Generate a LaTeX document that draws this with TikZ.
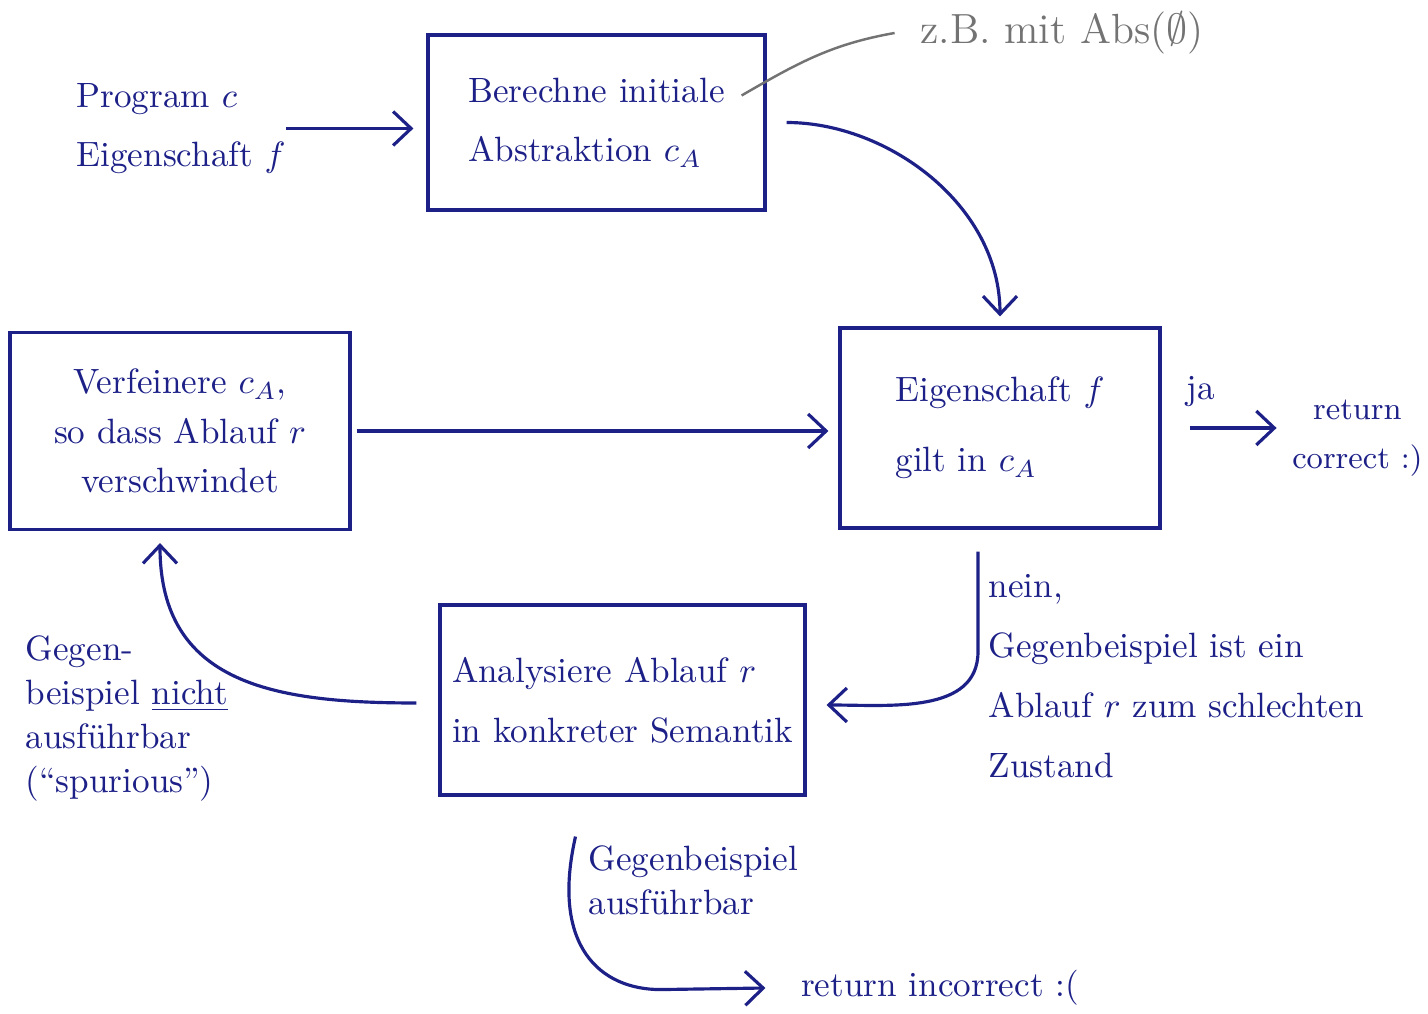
\documentclass[tikz,border=0pt]{standalone}
\usepackage{fontspec}
\usepackage{amssymb}
\usetikzlibrary{positioning,arrows.meta}
\definecolor{ink}{RGB}{28,32,135}
\definecolor{pencil}{RGB}{115,115,115}

\begin{document}
\begin{tikzpicture}[font=\fontsize{10}{17}\selectfont]
\tikzstyle{box}=[rectangle, draw=ink, text=ink, line width=0.9pt, inner sep=1mm]
\tikzstyle{connect}=[-{Straight Barb[length=1.8mm,width=3.4mm]}, draw=ink, line width=0.9pt]
\tikzstyle{remark}=[text=ink, align=left, inner sep=0pt]
\tikzstyle{note}=[text=pencil, inner sep=0pt, font=\fontsize{12}{14}\selectfont]
  \useasboundingbox (0,0) rectangle (14.28,-10.14);
  \node[box, minimum width=33.7mm, minimum height=17.5mm, align=left] (init) at (5.965,-1.225) {Berechne initiale\\Abstraktion $c_A$};
  \node[box, minimum width=32mm, minimum height=20mm, align=left, font=\fontsize{10}{20}\selectfont] (check) at (10,-4.28) {Eigenschaft $f$\\gilt in $c_A$};
  \node[box, minimum width=34mm, minimum height=19.7mm, align=center, font=\fontsize{10}{14}\selectfont] (refine) at (1.8,-4.31) {Verfeinere $c_A$,\\so dass Ablauf $r$\\verschwindet};
  \node[box, minimum width=36.5mm, minimum height=19mm, align=left] (analyse) at (6.225,-7) {Analysiere Ablauf $r$\\in konkreter Semantik};
  \node[remark] (input) [left=14mm of init, yshift=-0.6mm] {Program $c$\\Eigenschaft $f$};
  \node[remark, align=center, font=\fontsize{9}{14}\selectfont] (correct) [right=13mm of check, yshift=-1mm] {return\\correct :)};
  \node[remark, anchor=north west] (nein) at (9.88,-5.74) {nein,\\Gegenbeispiel ist ein\\Ablauf $r$ zum schlechten\\Zustand};
  \node[remark, anchor=north west, font=\fontsize{10}{12.5}\selectfont] (spurious) at (0.25,-6.35) {Gegen-\\beispiel \underline{nicht}\\ausführbar\\(``spurious'')};
  \node[remark, anchor=north west, font=\fontsize{10}{12.5}\selectfont] (feasible) at (5.88,-8.45) {Gegenbeispiel\\ausführbar};
  \node[remark] (incorrect) at (9.4,-9.88) {return incorrect :(};
  \node[note] (hint) at (10.62,-0.33) {z.B. mit Abs($\emptyset$)};
  \coordinate (fork) at ([xshift=-4.7mm,yshift=-4mm]analyse.south);
  \path (input.east) edge[connect, shorten >=1.3mm] (input.east -| init.west)
           (refine.east) edge[connect, shorten <=0.5mm, shorten >=1mm] (refine.east -| check.west)
           (check.east) edge[connect, shorten <=2.8mm, shorten >=1.5mm] node[remark, above=2mm, pos=0.3] {ja} (check.east -| correct.west)
           ;
  \draw[connect, shorten <=2mm, shorten >=1mm] (init.east) to[out=0, in=90] (check.north);
  \draw[connect] ([xshift=-2.2mm,yshift=-2.2mm]check.south) -- ++(0,-1) to[out=-90, in=0] ([xshift=2mm,yshift=-0.5mm]analyse.east);
  \draw[connect] ([xshift=-2.2mm,yshift=-0.3mm]analyse.west) to[out=180, in=-90, looseness=1.2] ([xshift=-2mm,yshift=-1.2mm]refine.south);
  \draw[connect] (fork) .. controls +(-0.25,-1.1) and +(-0.6,0) .. ++(0.85,-1.53) -- ([xshift=-3.5mm]incorrect.west);
  \draw[draw=pencil, line width=0.7pt] ([xshift=-2.5mm]hint.west) to[out=190, in=30] ([xshift=-2.5mm,yshift=2.7mm]init.east);
\end{tikzpicture}
\end{document}
